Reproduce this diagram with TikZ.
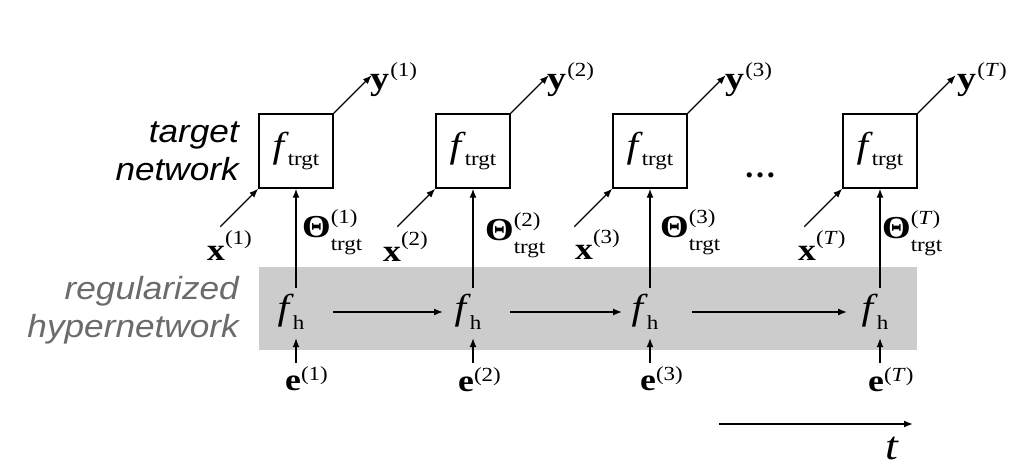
\documentclass[tikz,border=0pt]{standalone}
\usepackage{fontspec}
\usepackage{graphicx}
\setmainfont{Liberation Serif}
\newfontfamily\arialf{Liberation Sans}
\usetikzlibrary{arrows.meta}
\newcommand\sz[1]{\fontsize{#1}{#1}\selectfont}
\newcommand\hs[1]{\scalebox{1.15}[1]{#1}}
\newcommand\ftg{\hs{\sz{36}\textit{f}\kern-1pt\raisebox{-8pt}{\sz{20}trgt}}}
\newcommand\fhh{\hs{\sz{36}\textit{f}\kern-1pt\raisebox{-10pt}{\sz{20}h}}}
\newcommand\thet[1]{\hs{\sz{32}\textbf{Θ}\rlap{\raisebox{14pt}{\sz{20}(#1)}}\raisebox{-13pt}{\sz{20}trgt}}}
\newcommand\xlab[1]{\hs{\sz{31}\textbf{x}\raisebox{16pt}{\sz{20}(#1)}}}
\newcommand\ylab[1]{\hs{\sz{33}\textbf{y}\kern1pt\raisebox{13pt}{\sz{20}(#1)}}}
\newcommand\elab[1]{\hs{\sz{31}\textbf{e}\raisebox{10pt}{\sz{20}(#1)}}}
\newcommand\sidelab[1]{\scalebox{1.1}[1]{\arialf\itshape\sz{32}#1}}
\definecolor{bandgray}{gray}{0.8}
\definecolor{labgray}{gray}{0.42}
\begin{document}
\begin{tikzpicture}[x=1pt,y=-1pt,
  arr/.style={-{Latex[length=9pt,width=7pt]}, line width=1.3pt},
  tbox/.style={draw, line width=1.5pt, minimum size=74pt, inner sep=0pt, fill=white},
  lab/.style={inner sep=0pt, anchor=base west},
  fhnode/.style={inner sep=0pt, minimum height=48pt},
  side/.style={inner sep=0pt, anchor=base east}]
\useasboundingbox (0,0) rectangle (1029,470);
% band
\node[fill=bandgray, minimum width=658pt, minimum height=83pt, inner sep=0pt] (band) at (588,308.5) {};
% side labels
\node[side] (lt1) at (239,143) {\sidelab{target}};
\node[side] (lt2) at (239,181) {\sidelab{network}};
\node[side, text=labgray] (lh1) at (239,300) {\sidelab{regularized}};
\node[side, text=labgray] (lh2) at (239,338) {\sidelab{hypernetwork}};
% target boxes
\node[tbox] (t1) at (296,151) {\ftg};
\node[tbox] (t2) at (473,151) {\ftg};
\node[tbox] (t3) at (650,151) {\ftg};
\node[tbox] (t4) at (880,151) {\ftg};
% hypernetwork nodes
\node[fhnode] (h1) at (291,312) {\fhh};
\node[fhnode] (h2) at (468,312) {\fhh};
\node[fhnode] (h3) at (645,312) {\fhh};
\node[fhnode] (h4) at (875,312) {\fhh};
% dots
\node[inner sep=0pt, anchor=base] (dots) at (760,178) {\sz{32}\textbf{…}};
% x labels
\node[lab] (x1) at (207,261) {\xlab{1}};
\node[lab] (x2) at (383,262) {\xlab{2}};
\node[lab] (x3) at (575,260) {\xlab{3}};
\node[lab] (x4) at (798,261) {\xlab{\textit{T}}};
% theta labels
\node[lab] (th1) at (302,238) {\thet{1}};
\node[lab] (th2) at (485,241) {\thet{2}};
\node[lab] (th3) at (660,238) {\thet{3}};
\node[lab] (th4) at (882,239) {\thet{\textit{T}}};
% y labels
\node[lab] (y1) at (370,90) {\ylab{1}};
\node[lab] (y2) at (547,90) {\ylab{2}};
\node[lab] (y3) at (725,90) {\ylab{3}};
\node[lab] (y4) at (957,90) {\ylab{\textit{T}}};
% e labels
\node[lab] (e1) at (285,391) {\elab{1}};
\node[lab] (e2) at (458,392) {\elab{2}};
\node[lab] (e3) at (640,391) {\elab{3}};
\node[lab] (e4) at (868,392) {\elab{\textit{T}}};
% coordinates for free ends
\foreach \i in {1,2,3,4}{
  \coordinate (xa\i) at ([shift={(-38pt,-38pt)}]t\i.south west);
  \coordinate (ya\i) at ([shift={(38pt,38pt)}]t\i.north east);
}
% arrows
\foreach \i in {1,2,3,4}{
  \draw[arr] (h\i.north -| t\i.south) -- (t\i.south);
  \draw[arr] (xa\i) -- (t\i.south west);
  \draw[arr] (t\i.north east) -- (ya\i);
  \draw[arr] ([yshift=-27pt]h\i.south -| t\i.south) -- ([yshift=-2pt]h\i.south -| t\i.south);
}
\draw[arr] ([xshift=42pt]h1.center) -- ([xshift=-25pt]h2.center);
\draw[arr] ([xshift=42pt]h2.center) -- ([xshift=-23pt]h3.center);
\draw[arr] ([xshift=47pt]h3.center) -- ([xshift=-28pt]h4.center);
% time axis
\coordinate (ts) at (719,424);
\coordinate (te) at (913,424);
\draw[arr] (ts) -- (te);
\node[lab] (tl) at (885,460) {\hs{\sz{40}\textit{t}}};
\end{tikzpicture}
\end{document}
